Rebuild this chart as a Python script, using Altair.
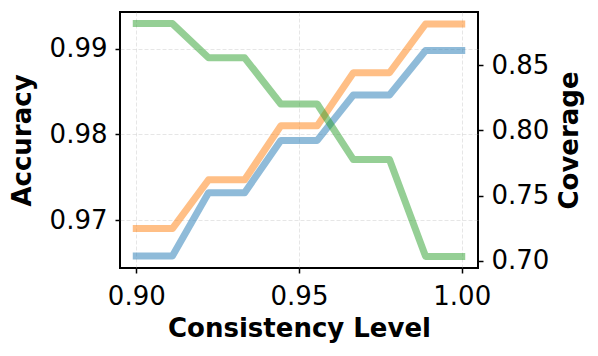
import altair as alt
import pandas as pd

# Data
consistency = [0.9, 0.9111, 0.9222, 0.9333, 0.9444, 0.9556, 0.9667, 0.9778, 0.9889, 1.0]
accuracy_blue = [0.9658, 0.9658, 0.9732, 0.9732, 0.9793, 0.9793, 0.9846, 0.9846, 0.9898, 0.9898]
accuracy_orange = [0.9690, 0.9690, 0.9747, 0.9747, 0.9810, 0.9810, 0.9872, 0.9872, 0.9929, 0.9929]
coverage_green = [0.8818, 0.8818, 0.8556, 0.8556, 0.8202, 0.8202, 0.7776, 0.7776, 0.7034, 0.7034]

x_ticks = [0.90, 0.95, 1.00]
acc_ticks = [0.97, 0.98, 0.99]
cov_ticks = [0.70, 0.75, 0.80, 0.85]

FONT = "DejaVu Sans"

acc_df = pd.DataFrame({
    "x": consistency * 2,
    "acc": accuracy_blue + accuracy_orange,
    "series": ["A"] * len(consistency) + ["B"] * len(consistency),
})
cov_df = pd.DataFrame({"x": consistency, "cov": coverage_green})

x_enc = alt.X(
    "x:Q",
    scale=alt.Scale(domain=[0.895, 1.005], nice=False, zero=False),
    axis=alt.Axis(values=x_ticks, format=".2f", title="Consistency Level",
                  grid=True, labelPadding=10, titlePadding=6),
)

acc = alt.Chart(acc_df).mark_line(
    strokeWidth=7, opacity=0.5, strokeCap="square", strokeJoin="round"
).encode(
    x=x_enc,
    y=alt.Y("acc:Q",
            scale=alt.Scale(domain=[0.9644, 0.9943], nice=False, zero=False),
            axis=alt.Axis(values=acc_ticks, format=".2f", title="Accuracy",
                          orient="left", grid=True, labelPadding=8, titlePadding=14)),
    color=alt.Color("series:N", scale=alt.Scale(domain=["A", "B"], range=["#1f77b4", "#ff7f0e"]),
                    legend=None),
    detail="series:N",
)

cov = alt.Chart(cov_df).mark_line(
    strokeWidth=7, opacity=0.5, strokeCap="square", strokeJoin="round", color="#2ca02c"
).encode(
    x=x_enc,
    y=alt.Y("cov:Q",
            scale=alt.Scale(domain=[0.6945, 0.8907], nice=False, zero=False),
            axis=alt.Axis(values=cov_ticks, format=".2f", title="Coverage",
                          orient="right", grid=False, labelPadding=8, titlePadding=8,
                          titleAngle=270, titleBaseline="top")),
)

chart = alt.layer(acc, cov).resolve_scale(y="independent").properties(
    width=358, height=256,
    background="white",
    autosize=alt.AutoSizeParams(type="none"),
    padding={"left": 112, "top": 4, "right": 112, "bottom": 80},
).configure_view(
    stroke="black", strokeWidth=2
).configure_axis(
    domain=False,
    labelFont=FONT, labelFontSize=26, labelColor="black",
    titleFont=FONT, titleFontSize=26, titleFontWeight="bold", titleColor="black",
    tickColor="black", tickSize=5, tickWidth=1.5,
    gridColor="#b0b0b0", gridOpacity=0.4, gridDash=[4, 2], gridWidth=0.8,
)

chart.save("out.html", embed_options={"renderer": "svg", "actions": False})
